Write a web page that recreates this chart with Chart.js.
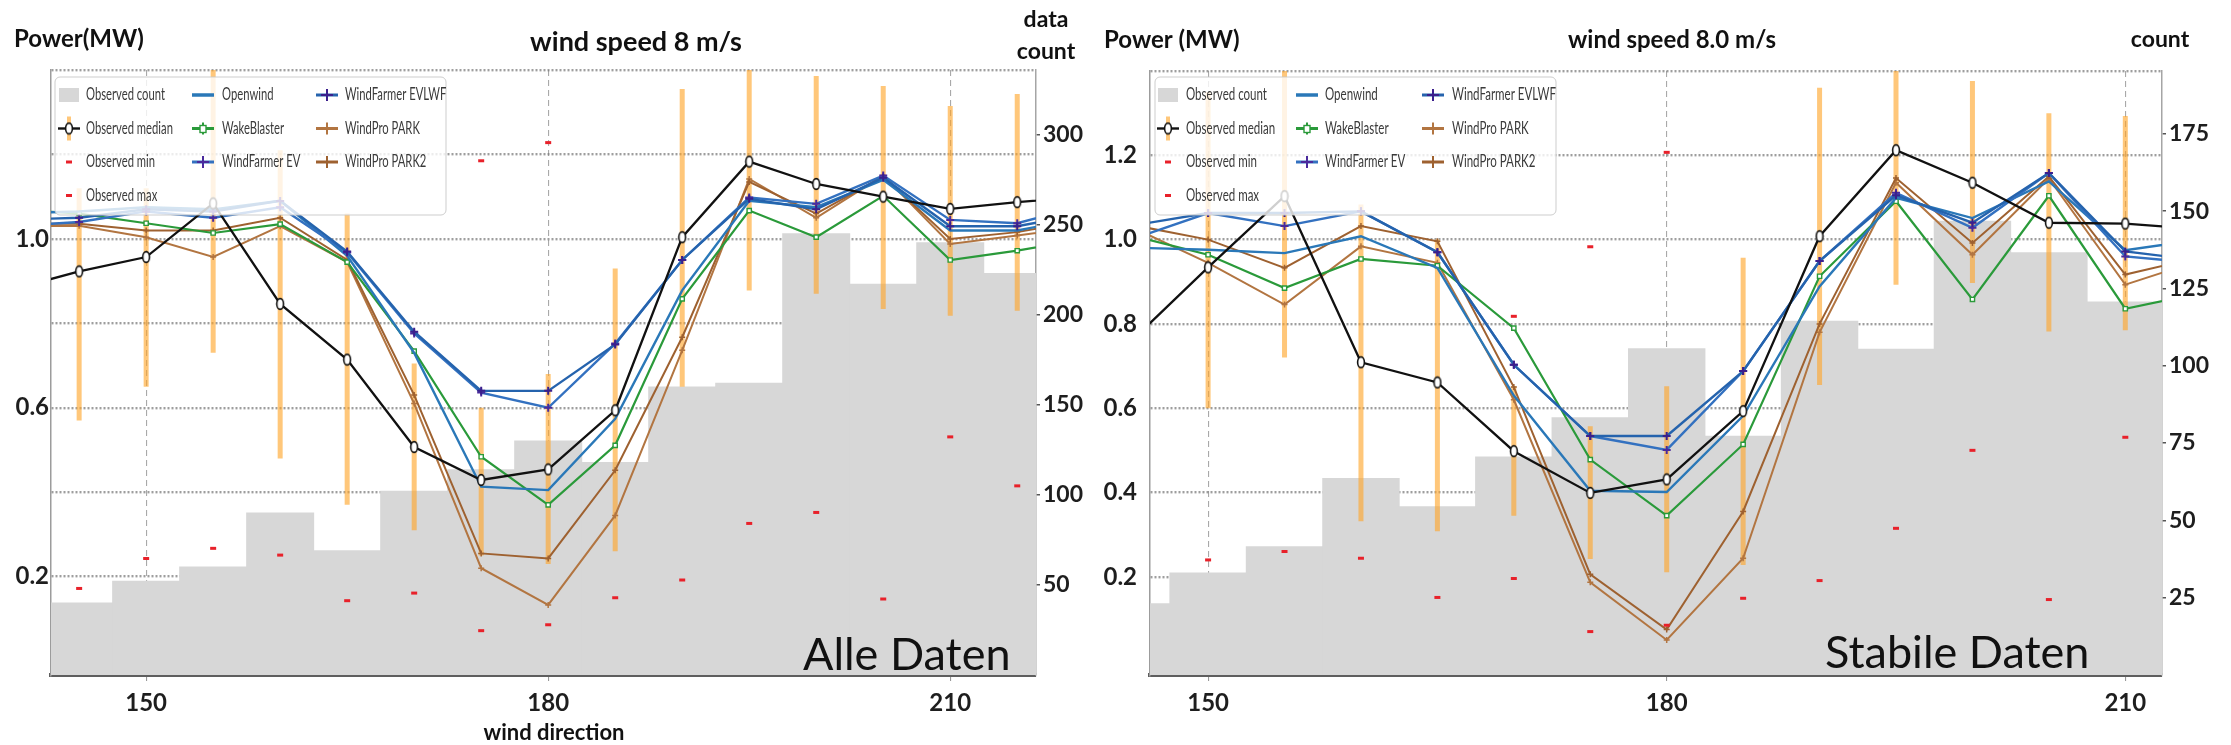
<!DOCTYPE html>
<html><head><meta charset="utf-8">
<script src="https://cdn.jsdelivr.net/npm/chart.js@4.4.1/dist/chart.umd.min.js"></script>
<style>
html,body{margin:0;padding:0;background:#fff;}
#wrap{position:relative;width:2231px;height:745px;overflow:hidden;background:#fff;}
#c1{position:absolute;left:0;top:0;width:1100px;height:745px;}
#c2{position:absolute;left:1100px;top:0;width:1131px;height:745px;}
</style></head><body>
<div id="wrap"><canvas id="c1" width="1100" height="745"></canvas><canvas id="c2" width="1131" height="745"></canvas></div>
<script>
// ---------------- DATA: left panel (Alle Daten) ----------------
const dirsL = [140,145,150,155,160,165,170,175,180,185,190,195,200,205,210,215,220];
const medianL = [0.88,0.923,0.957,1.084,0.846,0.714,0.507,0.429,0.454,0.594,1.004,1.183,1.130,1.100,1.071,1.087,1.10];
const openwindL = [1.06,1.065,1.075,1.07,1.09,0.96,0.73,0.413,0.405,0.574,0.878,1.09,1.075,1.14,1.02,1.02,1.05];
const wakeBlasterL = [1.07,1.06,1.037,1.014,1.035,0.945,0.734,0.484,0.37,0.511,0.858,1.067,1.004,1.102,0.95,0.972,1.0];
const wfEvL = [1.03,1.04,1.065,1.05,1.075,0.968,0.776,0.636,0.60,0.752,0.95,1.098,1.083,1.15,1.045,1.037,1.08];
const wfEvlwfL = [1.045,1.05,1.07,1.065,1.09,0.97,0.78,0.64,0.64,0.75,0.95,1.095,1.07,1.145,1.03,1.03,1.06];
const parkL = [1.03,1.031,1.004,0.957,1.03,0.945,0.61,0.22,0.133,0.345,0.736,1.142,1.05,1.15,0.988,1.008,1.03];
const park2L = [1.035,1.036,1.02,1.02,1.05,0.95,0.63,0.255,0.243,0.452,0.767,1.135,1.06,1.148,1.0,1.016,1.045];
const binDirsL = [145,150,155,160,165,170,175,180,185,190,195,200,205,210,215];
const countL = [40,52,60,90,69,102,114,130,118,160,162,245,217,240,223];
const errLowL = [0.57,0.65,0.73,0.48,0.37,0.31,0.25,0.23,0.26,0.65,0.878,0.87,0.834,0.818,0.83];
const errHighL = [1.12,1.12,1.42,1.21,1.06,0.705,0.60,0.68,0.93,1.355,1.42,1.386,1.362,1.315,1.343];
const minL = [0.172,0.243,0.267,0.251,0.143,0.161,0.072,0.086,0.15,0.192,0.326,0.352,0.147,0.531,0.415];
const maxDirsL = [175,180];
const maxL = [1.185,1.228];

// ---------------- DATA: right panel (Stabile Daten) ----------------
const dirsR = [145,150,155,160,165,170,175,180,185,190,195,200,205,210,215];
const medianR = [0.76,0.934,1.103,0.709,0.661,0.498,0.399,0.431,0.593,1.008,1.212,1.135,1.04,1.038,1.024];
const openwindR = [0.981,0.976,0.968,1.008,0.933,0.63,0.404,0.401,0.582,0.889,1.099,1.051,1.138,0.975,1.0];
const wakeBlasterR = [1.01,0.964,0.885,0.954,0.938,0.79,0.478,0.345,0.514,0.913,1.091,0.858,1.104,0.836,0.874];
const wfEvR = [1.001,1.063,1.032,1.067,0.97,0.703,0.534,0.501,0.688,0.949,1.111,1.028,1.158,0.96,0.944];
const wfEvlwfR = [1.033,1.063,1.063,1.067,0.97,0.703,0.534,0.534,0.688,0.949,1.105,1.04,1.158,0.972,0.95];
const parkR = [1.03,0.945,0.846,0.984,0.945,0.62,0.187,0.05,0.244,0.78,1.135,0.964,1.145,0.893,0.952];
const park2R = [1.035,1.0,0.933,1.032,0.996,0.65,0.206,0.075,0.355,0.80,1.146,0.992,1.15,0.917,0.959];
const binDirsR = [145,150,155,160,165,170,175,180,185,190,195,200,205,210];
const countR = [23,33,41.5,63.5,54.4,70.5,83.2,105.5,77.2,114.4,105.3,146.7,136.5,120.6];
const errDirsR = [150,155,160,165,170,175,180,185,190,195,200,205,210];
const errLowR = [0.60,0.72,0.332,0.308,0.345,0.242,0.211,0.228,0.655,0.893,0.897,0.782,0.785];
const errHighR = [1.35,1.42,1.083,1.0,0.652,0.557,0.652,0.957,1.36,1.42,1.376,1.30,1.293];
const minR = [0.24,0.26,0.244,0.151,0.196,0.07,0.085,0.149,0.191,0.315,0.5,0.146,0.531];
const maxDirsR = [170,175,180];
const maxR = [0.818,0.983,1.207];

// ---------------- ticks / labels ----------------
const yGridValues = [0,0.2,0.4,0.6,0.8,1.0,1.2,1.4];
const yLabelsL = [0.2,0.6,1.0];
const yLabelsR = [0.2,0.4,0.6,0.8,1.0,1.2];
const xTickValues = [150,180,210];
const countTicksL = [50,100,150,200,250,300];
const countTicksR = [25,50,75,100,125,150,175];
const legendCols = [
  ['Observed count','Observed median','Observed min','Observed max'],
  ['Openwind','WakeBlaster','WindFarmer EV'],
  ['WindFarmer EVLWF','WindPro PARK','WindPro PARK2']
];

// ---------------- styles ----------------
const C = {
  count:'#d7d7d7', err:'rgba(255,165,40,0.62)', red:'#e8212a',
  median:'#111111', openwind:'#2a78b8', wake:'#2a9a3a', ev:'#3371c0', evm:'#4a2a9c',
  evlwf:'#2563ad', evlwfm:'#3b1f8c', park:'#b27541', park2:'#9e6130'
};
const FONT = 'Lato, "Open Sans", "DejaVu Sans", sans-serif';

function ellipseMarker(){
  const c=document.createElement('canvas'); c.width=10; c.height=14;
  const g=c.getContext('2d'); g.beginPath(); g.ellipse(5,7,3.4,5.4,0,0,Math.PI*2);
  g.fillStyle='#fff'; g.fill(); g.lineWidth=1.6; g.strokeStyle='#111'; g.stroke(); return c;
}
const medMark = ellipseMarker();

function pts(xs, ys){ return xs.map((x,i)=>({x:x, y:ys[i]})).filter(p=>p.y!=null); }
function lineDs(label, xs, ys, color, width, order, pt){
  return Object.assign({type:'line', label:label, data:pts(xs,ys), borderColor:color, borderWidth:width,
    tension:0, fill:false, order:order, yAxisID:'y', pointRadius:0}, pt||{});
}
function near(a,list){ return list.some(v=>Math.abs(v-a)<1e-6); }

function drawLegendMarker(ctx, key, cx, cy){
  ctx.save();
  const seg=(col,w)=>{ctx.strokeStyle=col;ctx.lineWidth=w;ctx.beginPath();ctx.moveTo(cx-11,cy);ctx.lineTo(cx+11,cy);ctx.stroke();};
  const cross=(col,r)=>{ctx.strokeStyle=col;ctx.lineWidth=2;ctx.beginPath();ctx.moveTo(cx-r,cy);ctx.lineTo(cx+r,cy);ctx.moveTo(cx,cy-r);ctx.lineTo(cx,cy+r);ctx.stroke();};
  switch(key){
    case 'Observed count': ctx.fillStyle=C.count; ctx.fillRect(cx-10,cy-7,20,14); break;
    case 'Observed median':
      ctx.strokeStyle=C.err; ctx.lineWidth=4; ctx.beginPath(); ctx.moveTo(cx,cy-12); ctx.lineTo(cx,cy+12); ctx.stroke();
      seg(C.median,2.4); ctx.drawImage(medMark,cx-5,cy-7); break;
    case 'Observed min': case 'Observed max':
      ctx.strokeStyle=C.red; ctx.lineWidth=3; ctx.beginPath(); ctx.moveTo(cx-3,cy); ctx.lineTo(cx+3,cy); ctx.stroke(); break;
    case 'Openwind': seg(C.openwind,3.5); break;
    case 'WakeBlaster': seg(C.wake,3); cross(C.wake,6); ctx.fillStyle='#fff'; ctx.strokeStyle=C.wake; ctx.lineWidth=1.4; ctx.fillRect(cx-3,cy-3,6,7); ctx.strokeRect(cx-3,cy-3,6,7); break;
    case 'WindFarmer EV': seg(C.ev,3); cross(C.evm,6); break;
    case 'WindFarmer EVLWF': seg(C.evlwf,3); cross(C.evlwfm,6); break;
    case 'WindPro PARK': seg(C.park,3); cross(C.park,6); break;
    case 'WindPro PARK2': seg(C.park2,3); cross(C.park2,6); break;
  }
  ctx.restore();
}

function buildPanel(canvasId, P){
  const datasets = [
    {type:'bar', label:'Observed count', data:pts(P.binDirs,P.counts), yAxisID:'y2', backgroundColor:C.count,
      barPercentage:1, categoryPercentage:1, grouped:false, borderWidth:0, inflateAmount:0.5, order:30},
    {type:'bar', label:'Observed range', data:P.errDirs.map((x,i)=>({x:x, y:[P.errLow[i],P.errHigh[i]]})), yAxisID:'y',
      backgroundColor:C.err, barThickness:5, grouped:false, borderWidth:0, inflateAmount:0, order:29},
    lineDs('WindPro PARK', P.dirs, P.park, C.park, 2, 12, {pointStyle:'cross', pointRadius:3, pointBorderColor:C.park, pointBorderWidth:1.5}),
    lineDs('WindPro PARK2', P.dirs, P.park2, C.park2, 2, 11, {pointStyle:'cross', pointRadius:3, pointBorderColor:C.park2, pointBorderWidth:1.5}),
    lineDs('WakeBlaster', P.dirs, P.wake, C.wake, 2.2, 10, {pointStyle:'rect', pointRadius:3, pointBackgroundColor:'#fff', pointBorderColor:C.wake, pointBorderWidth:1.4}),
    lineDs('Openwind', P.dirs, P.openwind, C.openwind, 2.4, 9),
    lineDs('WindFarmer EV', P.dirs, P.ev, C.ev, 2.4, 8, {pointStyle:'cross', pointRadius:4, pointBorderColor:C.evm, pointBorderWidth:2}),
    lineDs('WindFarmer EVLWF', P.dirs, P.evlwf, C.evlwf, 2.4, 7, {pointStyle:'cross', pointRadius:4, pointBorderColor:C.evlwfm, pointBorderWidth:2}),
    lineDs('Observed median', P.dirs, P.median, C.median, 2.3, 2, {pointStyle:medMark, pointRadius:5}),
    {type:'line', label:'Observed min', data:pts(P.errDirs,P.min), showLine:false, yAxisID:'y', order:1,
      pointStyle:'line', pointRadius:3, pointBorderWidth:3, pointBorderColor:C.red, borderColor:C.red},
    {type:'line', label:'Observed max', data:pts(P.maxDirs,P.max), showLine:false, yAxisID:'y', order:1,
      pointStyle:'line', pointRadius:3, pointBorderWidth:3, pointBorderColor:C.red, borderColor:C.red}
  ];

  const overlay = {
    id:'overlay',
    afterDraw(chart){
      const ctx=chart.ctx; const L=P.legend;
      ctx.save();
      ctx.beginPath(); ctx.roundRect(L.x, L.y, L.w, L.h, 5);
      ctx.fillStyle='rgba(255,255,255,0.8)'; ctx.fill();
      ctx.strokeStyle='rgba(200,200,200,0.9)'; ctx.lineWidth=1; ctx.stroke();
      ctx.font='17px '+FONT; ctx.fillStyle='#3a3a3a'; ctx.textBaseline='middle'; ctx.textAlign='left';
      const sx = L.countTextW / ctx.measureText('Observed count').width;
      legendCols.forEach((col,ci)=>{
        col.forEach((name,ri)=>{
          const cy = L.y + L.row0 + ri*L.rowStep;
          drawLegendMarker(ctx, name, L.x + L.mx[ci], cy);
          ctx.save(); ctx.translate(L.x + L.tx[ci], cy); ctx.scale(sx,1); ctx.fillText(name,0,0); ctx.restore();
        });
      });
      ctx.restore();
      ctx.save(); ctx.fillStyle='#111';
      P.texts.forEach(t=>{
        ctx.font=t.font; ctx.textAlign=t.align; ctx.textBaseline=t.baseline||'middle';
        ctx.fillText(t.t,t.x,t.y);
      });
      ctx.restore();
    }
  };

  return new Chart(document.getElementById(canvasId), {
    type:'line',
    data:{datasets:datasets},
    options:{
      responsive:false, animation:false, events:[],
      layout:{padding:{top:P.top,left:0,right:0,bottom:0}},
      plugins:{legend:{display:false}, tooltip:{enabled:false}},
      scales:{
        x:{type:'linear', min:P.xmin, max:P.xmax, offset:false, z:1,
          afterBuildTicks:s=>{s.ticks=xTickValues.map(v=>({value:v}));},
          afterFit:s=>{s.height=70;},
          grid:{offset:false, color:'rgba(140,140,140,0.75)', lineWidth:1.1, drawTicks:true, tickLength:6, tickColor:'#999'},
          border:{display:true, color:'#5e5e5e', width:4, dash:[6,4]},
          ticks:{autoSkip:false, maxRotation:0, padding:8, color:'#1e1e1e', font:{family:FONT, size:24, weight:'bold'}}
        },
        y:{type:'linear', position:'left', min:-0.033, max:1.4, beginAtZero:false, z:1,
          afterBuildTicks:s=>{s.ticks=yGridValues.map(v=>({value:v}));},
          afterFit:s=>{s.width=P.yw;},
          grid:{color:'rgba(125,125,125,0.75)', lineWidth:2.4, drawTicks:false},
          border:{display:true, color:'#9c9c9c', width:1.5, dash:[2,2]},
          ticks:{padding:P.ypad, color:'#1e1e1e', font:{family:FONT, size:24, weight:'bold'},
            callback:v=>near(v,P.yLabels)?v.toFixed(1):''}
        },
        y2:{type:'linear', position:'right', min:0, max:P.cmax,
          afterBuildTicks:s=>{s.ticks=P.cTicks.map(v=>({value:v}));},
          afterFit:s=>{s.width=P.y2w;},
          grid:{drawOnChartArea:false, drawTicks:true, tickLength:4, tickColor:'#555', lineWidth:1.5},
          border:{display:true, color:'#a5a5a5', width:1.5},
          ticks:{padding:3, color:'#1e1e1e', font:{family:FONT, size:23, weight:'bold'}}
        }
      }
    },
    plugins:[overlay]
  });
}

buildPanel('c1', {
  dirs:dirsL, median:medianL, openwind:openwindL, wake:wakeBlasterL, ev:wfEvL, evlwf:wfEvlwfL, park:parkL, park2:park2L,
  binDirs:binDirsL, counts:countL, errDirs:binDirsL, errLow:errLowL, errHigh:errHighL, min:minL, maxDirs:maxDirsL, max:maxL,
  xmin:142.9, xmax:216.4, top:70, yw:51, y2w:64, ypad:2, cmax:336, cTicks:countTicksL, yLabels:yLabelsL,
  legend:{x:55, y:77, w:391, h:138, row0:18, rowStep:33.5, mx:[14,148,272], tx:[31,167,290], countTextW:79},
  texts:[
    {t:'Power(MW)', x:14, y:39, align:'left', font:'bold 24px '+FONT},
    {t:'wind speed 8 m/s', x:636, y:42, align:'center', font:'bold 27px '+FONT},
    {t:'data', x:1046, y:20, align:'center', font:'bold 23px '+FONT},
    {t:'count', x:1046, y:52, align:'center', font:'bold 23px '+FONT},
    {t:'wind direction', x:554, y:733, align:'center', font:'bold 22px '+FONT},
    {t:'Alle Daten', x:803, y:670, align:'left', baseline:'alphabetic', font:'45px '+FONT}
  ]
});

buildPanel('c2', {
  dirs:dirsR, median:medianR, openwind:openwindR, wake:wakeBlasterR, ev:wfEvR, evlwf:wfEvlwfR, park:parkR, park2:park2R,
  binDirs:binDirsR, counts:countR, errDirs:errDirsR, errLow:errLowR, errHigh:errHighR, min:minR, maxDirs:maxDirsR, max:maxR,
  xmin:146.2, xmax:212.4, top:71, yw:50, y2w:69, ypad:13, cmax:195.3, cTicks:countTicksR, yLabels:yLabelsR,
  legend:{x:55, y:77, w:401, h:138, row0:18, rowStep:33.5, mx:[13,152,278], tx:[31,170,297], countTextW:81},
  texts:[
    {t:'Power (MW)', x:4, y:40, align:'left', font:'bold 24px '+FONT},
    {t:'wind speed 8.0 m/s', x:572, y:40, align:'center', font:'bold 24px '+FONT},
    {t:'count', x:1060, y:40, align:'center', font:'bold 23px '+FONT},
    {t:'Stabile Daten', x:725, y:668, align:'left', baseline:'alphabetic', font:'45px '+FONT}
  ]
});
</script>
</body></html>
